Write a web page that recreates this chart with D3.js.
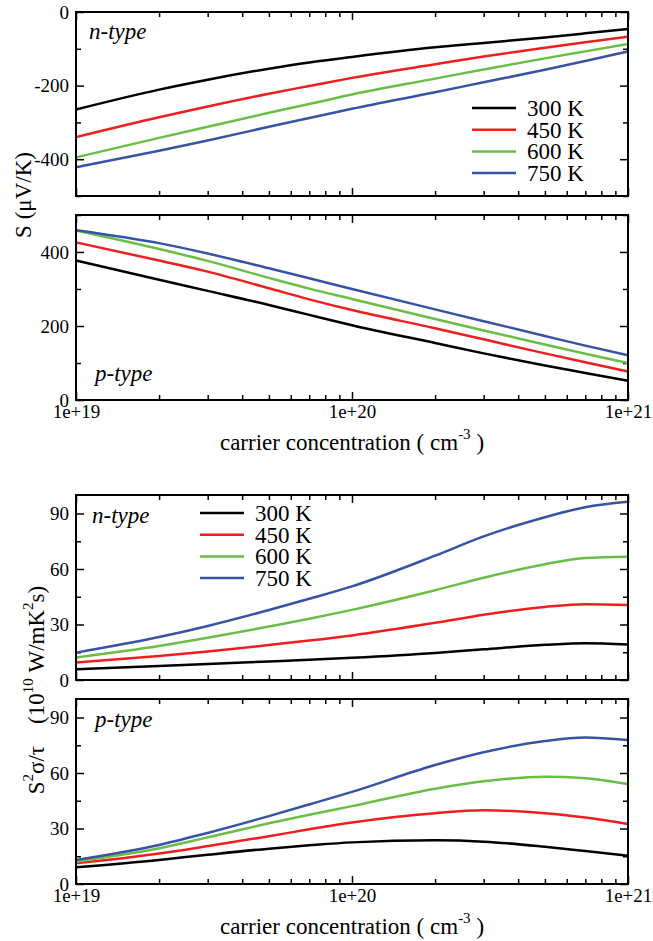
<!DOCTYPE html>
<html>
<head>
<meta charset="utf-8">
<script src="https://cdn.jsdelivr.net/npm/d3@7"></script>
<style>
  html, body { margin: 0; padding: 0; background: #fff; }
  svg { display: block; }
  svg text { font-family: "Liberation Serif", "Times New Roman", Times, serif; }
</style>
</head>
<body>
<svg id="chart" width="653" height="941"></svg>
<script>
// Carrier concentration grid (cm^-3)
const concentration = [1e19, 2e19, 3e19, 5e19, 7e19, 1e20, 2e20, 3e20, 5e20, 7e20, 1e21];
const temperatures = ["300 K", "450 K", "600 K", "750 K"];
const seriesColors = ["#000000", "#f01e1e", "#6abe45", "#3753a3"];

// Seebeck coefficient, n-type (µV/K)
const seebeckN300 = [-265, -211, -184, -154, -137, -122, -96, -84, -69, -58, -46];
const seebeckN450 = [-340, -286, -257, -222, -201, -179, -142, -121, -97, -82, -67];
const seebeckN600 = [-395, -342, -312, -274, -250, -224, -181, -156, -126, -107, -87];
const seebeckN750 = [-422, -377, -349, -312, -288, -263, -218, -191, -157, -133, -107];

// Seebeck coefficient, p-type (µV/K)
const seebeckP300 = [377, 325, 295, 257, 230, 202, 154, 126, 93, 73, 52];
const seebeckP450 = [426, 377, 347, 302, 272, 243, 194, 164, 126, 102, 77];
const seebeckP600 = [458, 408, 376, 330, 301, 273, 219, 188, 150, 125, 100];
const seebeckP750 = [459, 424, 396, 356, 329, 300, 245, 213, 173, 147, 121];

// Power factor over relaxation time, n-type (10^10 W/mK^2 s)
const pfN300 = [5.8, 7.6, 8.7, 10.0, 10.9, 12.0, 14.6, 16.6, 19.0, 19.9, 19.2];
const pfN450 = [9.4, 13.0, 15.4, 18.9, 21.3, 24.1, 30.9, 35.3, 39.5, 41.0, 40.6];
const pfN600 = [12.2, 18.4, 22.8, 28.9, 33.1, 37.9, 48.5, 55.3, 62.6, 65.9, 66.6];
const pfN750 = [14.8, 23.2, 29.2, 37.8, 43.9, 50.6, 67.2, 77.6, 88.0, 93.4, 96.3];

// Power factor over relaxation time, p-type (10^10 W/mK^2 s)
const pfP300 = [9.0, 13.0, 15.8, 19.1, 20.9, 22.5, 23.6, 22.9, 20.1, 17.8, 15.3];
const pfP450 = [11.2, 16.5, 20.5, 25.8, 29.6, 33.3, 38.3, 39.8, 38.3, 35.9, 32.4];
const pfP600 = [12.1, 19.3, 25.2, 32.8, 37.4, 42.1, 51.5, 55.5, 58.0, 57.2, 54.0];
const pfP750 = [13.0, 21.1, 27.6, 36.7, 43.0, 49.8, 64.3, 71.2, 77.3, 79.2, 77.8];

// Axis tick values
const xMajorTicks = [1e19, 1e20, 1e21];
const xTickLabels = ["1e+19", "1e+20", "1e+21"];
const seebeckNMajor = [-400, -200, 0];
const seebeckNMinor = [-500, -300, -100];
const seebeckPMajor = [0, 200, 400];
const seebeckPMinor = [100, 300, 500];
const pfMajor = [0, 30, 60, 90];
const pfMinor = [15, 45, 75];

const svg = d3.select("#chart");
const left = 76, right = 628;

const x = d3.scaleLog().domain([1e19, 1e21]).range([left, right]);
const xMinorTicks = [];
for (let d = 1e19; d < 1e21; d *= 10) {
  for (let k = 2; k <= 9; k++) xMinorTicks.push(d * k);
}

const panels = [
  { top: 12, bottom: 196, domain: [-500, 0], major: seebeckNMajor, minor: seebeckNMinor,
    series: [seebeckN300, seebeckN450, seebeckN600, seebeckN750],
    tag: "n-type", tagX: 89, tagY: 39, legend: { x: 472, y: 108 }, xLabels: false },
  { top: 215, bottom: 400, domain: [0, 500], major: seebeckPMajor, minor: seebeckPMinor,
    series: [seebeckP300, seebeckP450, seebeckP600, seebeckP750],
    tag: "p-type", tagX: 95, tagY: 381, legend: null, xLabels: true },
  { top: 495, bottom: 680, domain: [0, 100], major: pfMajor, minor: pfMinor,
    series: [pfN300, pfN450, pfN600, pfN750],
    tag: "n-type", tagX: 92, tagY: 523, legend: { x: 200, y: 513 }, xLabels: false },
  { top: 699, bottom: 884, domain: [0, 100], major: pfMajor, minor: pfMinor,
    series: [pfP300, pfP450, pfP600, pfP750],
    tag: "p-type", tagX: 95, tagY: 727, legend: null, xLabels: true }
];

const majorLen = 8, minorLen = 5;
const serif = "'Liberation Serif', 'Times New Roman', Times, serif";

function styleAxis(g) {
  g.attr("font-family", null);
  g.select(".domain").remove();
  g.selectAll(".tick line").attr("stroke", "#000").attr("stroke-width", 1.5);
  g.selectAll(".tick text").attr("fill", "#000").attr("font-size", 19)
    .attr("font-family", serif);
}

panels.forEach(p => {
  const y = d3.scaleLinear().domain(p.domain).range([p.bottom, p.top]);
  const g = svg.append("g");

  // Ticks on all four sides, pointing inward
  g.append("g").attr("transform", `translate(${left},0)`)
    .call(d3.axisLeft(y).tickValues(p.major).tickSize(-majorLen).tickSizeOuter(0)
      .tickPadding(7).tickFormat(d => String(d)))
    .call(styleAxis);
  g.append("g").attr("transform", `translate(${left},0)`)
    .call(d3.axisLeft(y).tickValues(p.minor).tickSize(-minorLen).tickSizeOuter(0).tickFormat(""))
    .call(styleAxis);
  g.append("g").attr("transform", `translate(${right},0)`)
    .call(d3.axisRight(y).tickValues(p.major).tickSize(-majorLen).tickSizeOuter(0).tickFormat(""))
    .call(styleAxis);
  g.append("g").attr("transform", `translate(${right},0)`)
    .call(d3.axisRight(y).tickValues(p.minor).tickSize(-minorLen).tickSizeOuter(0).tickFormat(""))
    .call(styleAxis);

  g.append("g").attr("transform", `translate(0,${p.bottom})`)
    .call(d3.axisBottom(x).tickValues(xMajorTicks).tickSize(-majorLen).tickSizeOuter(0)
      .tickPadding(5).tickFormat((d, i) => p.xLabels ? xTickLabels[i] : ""))
    .call(styleAxis);
  g.append("g").attr("transform", `translate(0,${p.bottom})`)
    .call(d3.axisBottom(x).tickValues(xMinorTicks).tickSize(-minorLen).tickSizeOuter(0).tickFormat(""))
    .call(styleAxis);
  g.append("g").attr("transform", `translate(0,${p.top})`)
    .call(d3.axisTop(x).tickValues(xMajorTicks).tickSize(-majorLen).tickSizeOuter(0).tickFormat(""))
    .call(styleAxis);
  g.append("g").attr("transform", `translate(0,${p.top})`)
    .call(d3.axisTop(x).tickValues(xMinorTicks).tickSize(-minorLen).tickSizeOuter(0).tickFormat(""))
    .call(styleAxis);

  // Curves
  const line = d3.line()
    .x((d, i) => x(concentration[i]))
    .y(d => y(d))
    .curve(d3.curveMonotoneX);
  p.series.forEach((s, i) => {
    g.append("path").datum(s)
      .attr("d", line)
      .attr("fill", "none")
      .attr("stroke", seriesColors[i])
      .attr("stroke-width", 2.5);
  });

  // Frame
  g.append("rect")
    .attr("x", left).attr("y", p.top)
    .attr("width", right - left).attr("height", p.bottom - p.top)
    .attr("fill", "none").attr("stroke", "#000").attr("stroke-width", 2);

  // Doping tag
  g.append("text")
    .attr("x", p.tagX).attr("y", p.tagY)
    .attr("font-size", 23).attr("font-style", "italic")
    .text(p.tag);

  // Legend
  if (p.legend) {
    const lg = g.append("g").attr("transform", `translate(${p.legend.x},${p.legend.y})`);
    temperatures.forEach((t, i) => {
      const yy = i * 21.7;
      lg.append("line").attr("x1", 0).attr("x2", 44).attr("y1", yy).attr("y2", yy)
        .attr("stroke", seriesColors[i]).attr("stroke-width", 2.5);
      lg.append("text").attr("x", 55).attr("y", yy).attr("dy", "0.35em")
        .attr("font-size", 23).text(t);
    });
  }

  // X axis title
  if (p.xLabels) {
    const t = g.append("text")
      .attr("x", (left + right) / 2).attr("y", p.bottom + 50)
      .attr("text-anchor", "middle").attr("font-size", 23);
    t.append("tspan").text("carrier concentration ( cm");
    t.append("tspan").attr("font-size", 15).attr("dy", -11).text("-3");
    t.append("tspan").attr("dy", 11).text(" )");
  }
});

// Y axis titles
svg.append("text")
  .attr("transform", "translate(31,195) rotate(-90)")
  .attr("text-anchor", "middle").attr("font-size", 23)
  .text("S (\u03bcV/K)");

const yt = svg.append("text")
  .attr("transform", "translate(44,690) rotate(-90)")
  .attr("text-anchor", "middle").attr("font-size", 23);
yt.append("tspan").text("S");
yt.append("tspan").attr("font-size", 15).attr("dy", -11).text("2");
yt.append("tspan").attr("dy", 11).text("\u03c3/\u03c4");
yt.append("tspan").attr("dx", 22).text("(10");
yt.append("tspan").attr("font-size", 15).attr("dy", -11).text("10");
yt.append("tspan").attr("dy", 11).text(" W/mK");
yt.append("tspan").attr("font-size", 15).attr("dy", -11).text("2");
yt.append("tspan").attr("dy", 11).text("s)");
</script>
</body>
</html>
